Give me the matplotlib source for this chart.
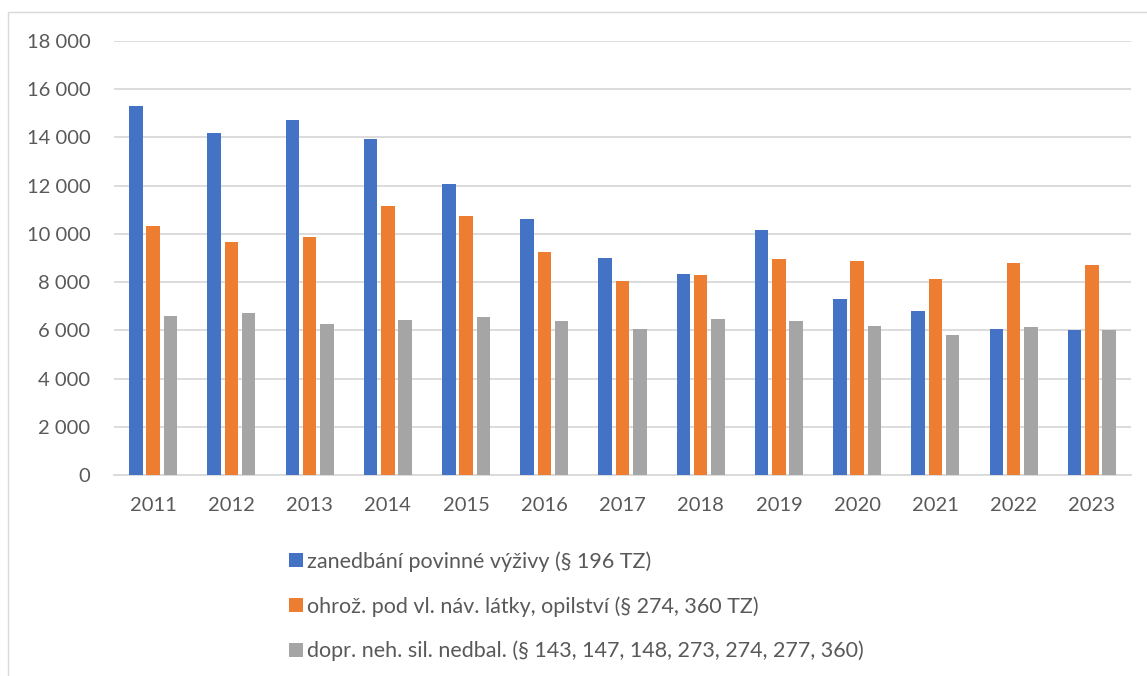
import numpy as np
import matplotlib.pyplot as plt
from matplotlib.patches import Rectangle
from matplotlib.ticker import FuncFormatter

plt.rcParams['font.family'] = ['Lato', 'DejaVu Sans']

roky = ['2011', '2012', '2013', '2014', '2015', '2016', '2017',
        '2018', '2019', '2020', '2021', '2022', '2023']
vyzivne = [15300, 14200, 14730, 13930, 12080, 10610, 8990,
           8340, 10170, 7300, 6790, 6070, 6020]
navykove = [10340, 9650, 9880, 11160, 10730, 9250, 8050,
            8290, 8960, 8870, 8130, 8780, 8710]
doprava = [6610, 6730, 6250, 6430, 6560, 6400, 6070,
           6470, 6390, 6170, 5800, 6140, 6020]
popisky = ['zanedbání povinné výživy (§ 196 TZ)',
           'ohrož. pod vl. náv. látky, opilství (§ 274, 360 TZ)',
           'dopr. neh. sil. nedbal. (§ 143, 147, 148, 273, 274, 277, 360)']
barvy = ['#4472c4', '#ed7d31', '#a5a5a5']

fig = plt.figure(figsize=(11.47, 6.76), dpi=100)
ax = fig.add_axes([114 / 1147, 1 - 475 / 676, (1131 - 114) / 1147, (475 - 41) / 676])

x = np.arange(len(roky))
w = 0.173
krok = 0.221
for i, (data, barva, popis) in enumerate(zip([vyzivne, navykove, doprava], barvy, popisky)):
    ax.bar(x + (i - 1) * krok, data, width=w, color=barva, label=popis, zorder=3)

ax.set_xlim(-0.5, len(roky) - 0.5)
ax.set_ylim(0, 18000)
ax.set_yticks(np.arange(0, 18001, 2000))
ax.yaxis.set_major_formatter(FuncFormatter(lambda v, p: f"{v:,.0f}".replace(",", " ")))
ax.set_xticks(x)
ax.set_xticklabels(roky)
ax.grid(axis='y', color='#d9d9d9', linewidth=1.3, zorder=0)
for s in ['top', 'right', 'left']:
    ax.spines[s].set_visible(False)
ax.spines['bottom'].set_color('#d9d9d9')
ax.spines['bottom'].set_linewidth(1.3)
ax.tick_params(axis='both', length=0, labelsize=14.5, colors='#595959')
ax.tick_params(axis='y', pad=17)
ax.tick_params(axis='x', pad=16)

fig.legend(loc='upper left', bbox_to_anchor=(289 / 1147, 1 - 551 / 676), frameon=False,
           fontsize=15.5, labelcolor='#595959', handlelength=0.64, handleheight=0.64,
           handletextpad=0.2, labelspacing=1.13, borderpad=0, borderaxespad=0)

fig.patches.append(Rectangle((8 / 1147, -0.1), 1.2, 1 - 12 / 676 + 0.1, transform=fig.transFigure,
                             fill=False, edgecolor='#d9d9d9', linewidth=1.0))

plt.savefig('out.png', dpi=100)
